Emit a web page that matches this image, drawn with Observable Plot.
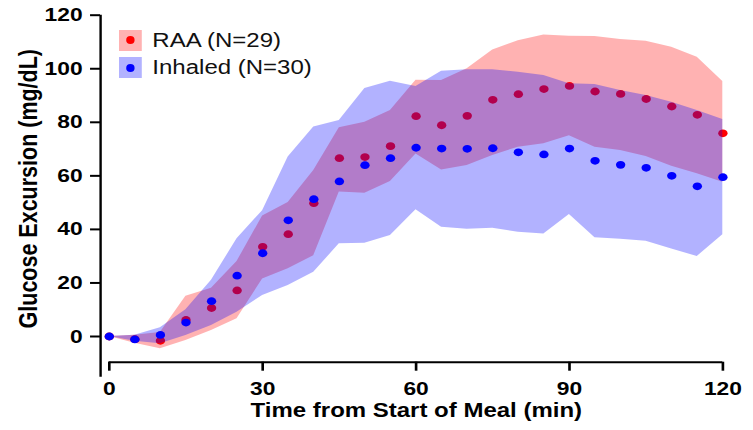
<!DOCTYPE html>
<html>
<head>
<meta charset="utf-8">
<script src="https://cdn.jsdelivr.net/npm/d3@7"></script>
<script src="https://cdn.jsdelivr.net/npm/@observablehq/plot@0.6"></script>
<style>
  body { margin: 0; background: #fff; }
  #wrap { position: relative; width: 753px; height: 430px; overflow: hidden; background: #fff; }
  .legend { position: absolute; left: 119px; top: 30px; transform: scaleX(1.2); transform-origin: 0 0;
            font-family: 'Liberation Sans', Arial, sans-serif; font-size: 20px; color: #111; }
  .row { display: flex; align-items: center; height: 20.6px; margin-bottom: 6.7px; }
  .sw { width: 18.7px; height: 20.6px; position: relative; }
  .sw i { position: absolute; left: 50%; top: 50%; width: 7px; height: 8px; margin: -4px 0 0 -3.5px; border-radius: 50%; }
  .lab { margin-left: 9.1px; white-space: nowrap; line-height: 20.6px; }
</style>
</head>
<body>
<div id="wrap"></div>
<script>
// ---- data ----
const times    = [0, 5, 10, 15, 20, 25, 30, 35, 40, 45, 50, 55, 60, 65, 70, 75, 80, 85, 90, 95, 100, 105, 110, 115, 120];
const raaMean  = [0, -1.0, -1.6, 6.2, 10.6, 17.2, 33.5, 38.2, 49.8, 66.6, 67.0, 71.1, 82.3, 78.9, 82.4, 88.4, 90.5, 92.4, 93.6, 91.5, 90.6, 88.7, 85.9, 82.8, 75.9];
const raaLow   = [0, -2.5, -4.6, -1.5, 2.2, 6.6, 21.5, 25.3, 30.2, 54.0, 53.5, 57.9, 68.2, 62.2, 63.9, 67.6, 70.7, 72.0, 75.0, 70.7, 69.5, 67.2, 63.6, 60.8, 57.6];
const raaHigh  = [0, 0.5, 1.5, 15.0, 18.0, 28.0, 45.0, 50.0, 62.0, 78.0, 80.0, 84.4, 95.7, 95.6, 100.0, 107.0, 110.5, 112.6, 112.1, 112.0, 110.9, 110.3, 108.0, 104.3, 95.2];
const inhMean  = [0, -1.1, 0.6, 5.2, 13.2, 22.7, 31.1, 43.4, 51.3, 57.9, 64.0, 66.6, 70.5, 70.2, 70.1, 70.3, 68.8, 68.0, 70.2, 65.6, 64.1, 63.0, 60.0, 56.1, 59.5];
const inhLow   = [0, -1.8, -2.7, 0.4, 4.1, 9.1, 15.3, 19.0, 24.0, 34.6, 34.8, 37.7, 47.3, 40.8, 40.1, 40.4, 38.9, 38.3, 45.6, 36.9, 36.3, 35.6, 32.7, 29.9, 38.0];
const inhHigh  = [0, 0.5, 3.3, 10.0, 21.0, 36.5, 47.0, 67.0, 78.2, 80.7, 92.6, 95.3, 93.4, 99.1, 99.6, 99.6, 98.7, 97.5, 94.4, 94.1, 91.9, 90.0, 87.5, 84.4, 81.0];

const xTicks = [0, 30, 60, 90, 120];
const yTicks = [0, 20, 40, 60, 80, 100, 120];
const seriesNames = ["RAA (N=29)", "Inhaled (N=30)"];
const seriesColors = ["#ff0000", "#0000ff"];
const bandColors = ["rgba(255,0,0,0.3)", "rgba(0,0,255,0.3)"];
const xLabel = "Time from Start of Meal (min)";
const yLabel = "Glucose Excursion (mg/dL)";

// ---- tables built from the arrays ----
const raa = times.map((t, i) => ({t, mean: raaMean[i], lo: raaLow[i], hi: raaHigh[i]}));
const inh = times.map((t, i) => ({t, mean: inhMean[i], lo: inhLow[i], hi: inhHigh[i]}));

// ---- layout (the reference is horizontally stretched ~1.2x) ----
const W = 753, H = 430, S = 1.2, W0 = W / S;
const xAxisLineAt = -1.7;   // y-axis line sits slightly left of t=0
const yAxisLineAt = -9.6;   // x-axis line sits below y=0
const yLineBottom = -15.2;  // y-axis line runs below the x-axis line

const font = "'Liberation Sans', Arial, Helvetica, sans-serif";

const svg = Plot.plot({
  width: W0,
  height: H,
  marginLeft: 100 / S,
  marginRight: (W - 722.3) / S,
  marginTop: 14.7,
  marginBottom: H - 361.7,
  x: {domain: [xAxisLineAt, d3.max(xTicks)], axis: null},
  y: {domain: [yAxisLineAt, d3.max(yTicks)], axis: null},
  style: {fontFamily: font, color: "black", background: "white", overflow: "visible"},
  marks: [
    Plot.areaY(raa, {x: "t", y1: "lo", y2: "hi", fill: seriesColors[0], fillOpacity: 0.3}),
    Plot.dot(raa, {x: "t", y: "mean", r: 3.9, fill: seriesColors[0], stroke: "none"}),
    Plot.areaY(inh, {x: "t", y1: "lo", y2: "hi", fill: seriesColors[1], fillOpacity: 0.3}),
    Plot.dot(inh, {x: "t", y: "mean", r: 3.9, fill: seriesColors[1], stroke: "none"}),
    Plot.ruleX([xAxisLineAt], {y1: yLineBottom, y2: d3.max(yTicks), strokeWidth: 2}),
    Plot.ruleY([yAxisLineAt], {x1: d3.min(xTicks), x2: d3.max(xTicks), strokeWidth: 2}),
    Plot.axisX(xTicks, {anchor: "bottom", tickSize: 9, tickPadding: 10, strokeWidth: 2.2,
      fontSize: 19, fontWeight: "bold", fontFamily: font, label: null}),
    Plot.axisY(yTicks, {anchor: "left", tickSize: 8.3, tickPadding: 6.7, strokeWidth: 2,
      fontSize: 19, fontWeight: "bold", fontFamily: font, label: null}),
    Plot.text([xLabel], {frameAnchor: "bottom", lineAnchor: "bottom", dy: 55, dx: 3.8,
      fontSize: 20, fontWeight: "bold", fontFamily: font, fill: "black"}),
    Plot.text([yLabel], {frameAnchor: "left", textAnchor: "middle", lineAnchor: "middle", rotate: -90, dx: -60,
      fontSize: 21.5, fontWeight: "bold", fontFamily: font, fill: "black"})
  ]
});

svg.setAttribute("width", W);
svg.setAttribute("height", H);
svg.setAttribute("preserveAspectRatio", "none");
svg.style.width = W + "px";
svg.style.height = H + "px";
svg.style.maxWidth = "none";

const wrap = document.getElementById("wrap");
wrap.appendChild(svg);

// ---- legend (HTML overlay, same horizontal stretch) ----
const legend = document.createElement("div");
legend.className = "legend";
seriesNames.forEach((name, i) => {
  const row = document.createElement("div");
  row.className = "row";
  const sw = document.createElement("div");
  sw.className = "sw";
  sw.style.background = bandColors[i];
  const dot = document.createElement("i");
  dot.style.background = seriesColors[i];
  sw.appendChild(dot);
  const lab = document.createElement("span");
  lab.className = "lab";
  lab.textContent = name;
  row.appendChild(sw);
  row.appendChild(lab);
  legend.appendChild(row);
});
wrap.appendChild(legend);
</script>
</body>
</html>
